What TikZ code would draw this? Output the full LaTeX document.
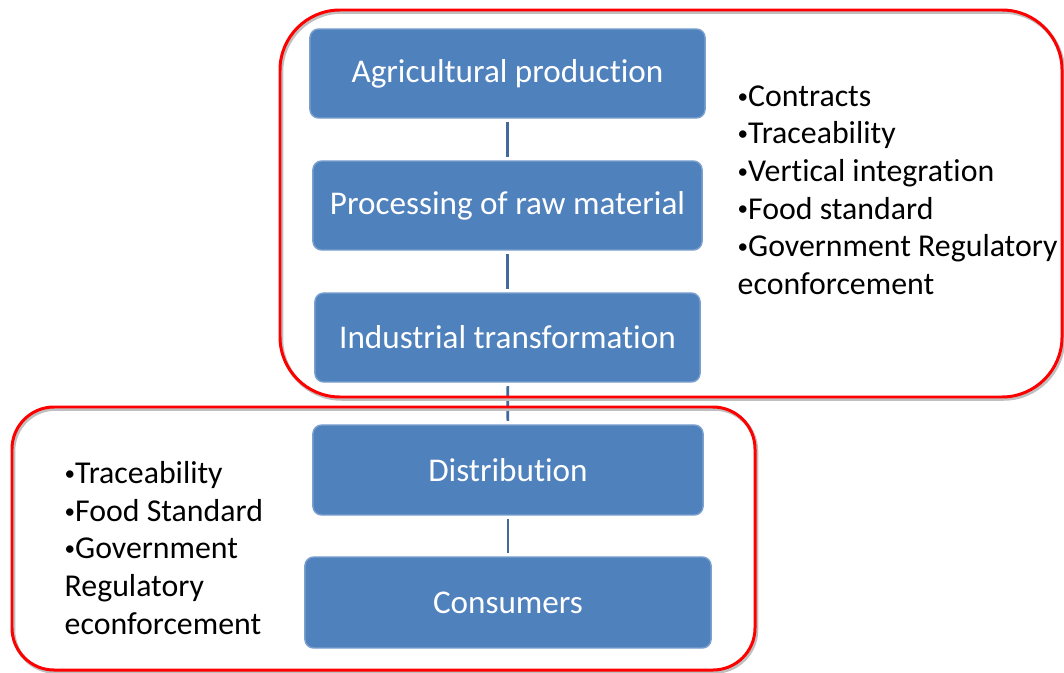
\documentclass[tikz,border=0pt]{standalone}
\usepackage{fontspec}
\setmainfont{Carlito}[Ligatures=NoCommon]
\usepackage{xcolor}
\usetikzlibrary{calc,shapes}
\definecolor{stageblue}{HTML}{4F81BD}
\definecolor{linkblue}{HTML}{41699C}
\definecolor{framered}{HTML}{FF0000}
\newcommand{\dotmark}{\raisebox{0.2ex}{\fontsize{6}{6}\selectfont•}}

\begin{document}
\begin{tikzpicture}[x=0.01cm,y=-0.01cm,
    stage/.style={draw=stageblue!75!white,line width=0.4pt,fill=stageblue,
      rounded corners=2.5pt,text=white,inner sep=0pt,
      font=\fontsize{9.43}{11.3}\selectfont},
    link/.style={draw=linkblue,line width=0.75pt,shorten <=1pt,shorten >=1pt},
    frame/.style={draw=framered,line width=0.85pt},
    frameshade/.style={draw=black!25,line width=1pt,shift={(1.5,2)}},
    notes/.style={align=left,anchor=west,inner sep=0pt,
      font=\fontsize{9.05}{10.7}\selectfont}]
      \path[use as bounding box] (0,0) rectangle (1064,673); % adjust to fit

      % chain of stages
      \node[stage,minimum width=3.95cm,minimum height=0.89cm] (agri) at (507.5,73.5) {Agricultural production};
      \node[stage,minimum width=3.89cm,minimum height=0.89cm] (proc) at (507.5,205.5) {Processing of raw material};
      \node[stage,minimum width=3.85cm,minimum height=0.89cm] (indus) at (507.5,337.5) {Industrial transformation};
      \node[stage,minimum width=3.90cm,minimum height=0.90cm] (distr) at (508,470) {Distribution};
      \node[stage,minimum width=4.06cm,minimum height=0.91cm] (cons) at (508,602.5) {Consumers};

      \draw[link] (agri) -- (proc);
      \draw[link] (proc) -- (indus);
      \draw[link] (indus) -- (distr);
      \draw[link] (distr) -- (cons);

      % red frames
      \draw[frameshade,rounded corners=0.6cm] (280,10) rectangle (1062,397);
      \draw[frame,rounded corners=0.6cm] (280,10) rectangle (1062,397);
      \draw[frameshade,rounded corners=0.42cm] (12,407) rectangle (755,670);
      \draw[frame,rounded corners=0.42cm] (12,407) rectangle (755,670);

      % notes
      \node[notes] (upper) at (737,190) {\dotmark Contracts\\\dotmark Traceability\\\dotmark Vertical integration\\\dotmark Food standard\\\dotmark Government Regulatory\\econforcement};
      \node[notes] (lower) at (64,548) {\dotmark Traceability\\\dotmark Food Standard\\\dotmark Government\\Regulatory\\econforcement};
    \end{tikzpicture}
\end{document}
